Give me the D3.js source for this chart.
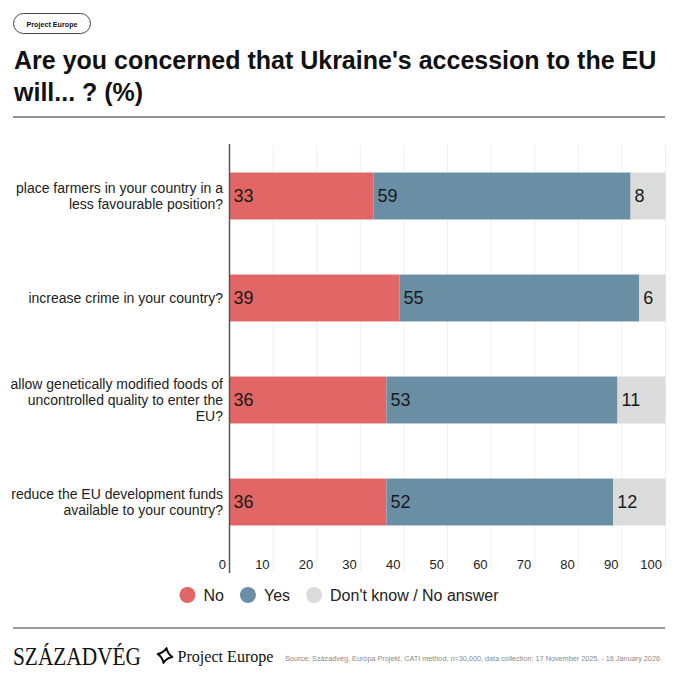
<!DOCTYPE html>
<html lang="en">
<head>
    <meta charset="UTF-8">
    <title>Ukraine accession concerns</title>
    <script src="https://d3js.org/d3.v7.min.js"></script>
    <style>
        body { margin: 0; background: #fff; }
        svg { display: block; font-family: "Liberation Sans", Arial, sans-serif; }
    </style>
</head>
<body>
    <div id="chart"></div>
    <script>
        // ---------------- data ----------------
        var questions = [
            ["place farmers in your country in a", "less favourable position?"],
            ["increase crime in your country?"],
            ["allow genetically modified foods of", "uncontrolled quality to enter the", "EU?"],
            ["reduce the EU development funds", "available to your country?"]
        ];
        var answers = ["No", "Yes", "Don't know / No answer"];
        var noValues = [33, 39, 36, 36];
        var yesValues = [59, 55, 53, 52];
        var dkValues = [8, 6, 11, 12];
        var ticks = [0, 10, 20, 30, 40, 50, 60, 70, 80, 90, 100];
        var colors = ["#e26665", "#6a8fa5", "#dbdbdb"];

        var W = 680, H = 680;
        var svg = d3.select("#chart").append("svg").attr("width", W).attr("height", H);

        // ---------------- header ----------------
        svg.append("rect").attr("x", 13.5).attr("y", 13.5).attr("width", 77).attr("height", 20)
            .attr("rx", 10).attr("fill", "#fff").attr("stroke", "#444").attr("stroke-width", 1);
        svg.append("text").attr("x", 52).attr("y", 26.5).attr("text-anchor", "middle")
            .attr("font-size", 8).attr("font-weight", "bold").attr("fill", "#111")
            .attr("textLength", 51).attr("lengthAdjust", "spacingAndGlyphs")
            .text("Project Europe");

        var title = ["Are you concerned that Ukraine's accession to the EU", "will... ? (%)"];
        svg.append("text").attr("x", 14).attr("y", 69).attr("font-size", 25).attr("font-weight", "bold")
            .attr("fill", "#111")
            .selectAll("tspan").data(title).join("tspan")
            .attr("x", 14).attr("dy", (d, i) => i ? 32 : 0).text(d => d);

        svg.append("line").attr("x1", 13).attr("x2", 665).attr("y1", 117).attr("y2", 117)
            .attr("stroke", "#6e6e6e").attr("stroke-width", 1.5);

        // ---------------- scales ----------------
        var x = d3.scaleLinear().domain([0, 100]).range([229.5, 665.5]);
        var y = d3.scaleBand().domain(d3.range(questions.length)).range([145, 553])
            .paddingInner(0.54).paddingOuter(0.27);

        var series = d3.stack().keys([0, 1, 2])
            .value((i, k) => [noValues, yesValues, dkValues][k][i])(d3.range(questions.length));

        // grid lines
        svg.append("g").selectAll("line").data(ticks.slice(1)).join("line")
            .attr("x1", d => x(d)).attr("x2", d => x(d)).attr("y1", 145).attr("y2", 572)
            .attr("stroke", "#efefef").attr("stroke-width", 1);

        // bars
        var layer = svg.append("g").selectAll("g").data(series).join("g")
            .attr("fill", (d, k) => colors[k]);
        layer.selectAll("rect").data(d => d).join("rect")
            .attr("x", d => x(d[0])).attr("width", d => x(d[1]) - x(d[0]))
            .attr("y", d => y(d.data)).attr("height", y.bandwidth());

        // value labels
        layer.selectAll("text").data(d => d).join("text")
            .attr("x", d => x(d[0]) + 4).attr("y", d => y(d.data) + y.bandwidth() / 2)
            .attr("dy", "0.36em").attr("font-size", 18).attr("fill", "#1a1a1a")
            .text(d => d[1] - d[0]);

        // axis line
        svg.append("line").attr("x1", x(0)).attr("x2", x(0)).attr("y1", 144).attr("y2", 573)
            .attr("stroke", "#555").attr("stroke-width", 1.5);

        // tick labels
        var xAxis = d3.axisBottom(x).tickValues(ticks).tickSize(0).tickPadding(0);
        var ax = svg.append("g").attr("transform", "translate(0,559)").call(xAxis);
        ax.select(".domain").remove();
        ax.selectAll("text").attr("text-anchor", "end").attr("x", -4).attr("dy", 0).attr("y", 10)
            .attr("font-size", 13).attr("fill", "#222")
            .attr("font-family", "'Liberation Sans', Arial, sans-serif");

        // category labels
        svg.append("g").selectAll("text").data(questions).join("text")
            .attr("text-anchor", "end").attr("font-size", 14).attr("fill", "#222")
            .each(function(lines, i) {
                var cy = y(i) + y.bandwidth() / 2;
                d3.select(this).selectAll("tspan").data(lines).join("tspan")
                    .attr("x", 223)
                    .attr("y", (d, j) => cy + 5 + (j - (lines.length - 1) / 2) * 15.8)
                    .text(d => d);
            });

        // ---------------- legend ----------------
        var legend = svg.append("g");
        var lx = 0;
        answers.forEach(function(a, k) {
            var g = legend.append("g").attr("transform", "translate(" + lx + ",0)");
            g.append("circle").attr("cx", 8).attr("cy", 595).attr("r", 8).attr("fill", colors[k]);
            var t = g.append("text").attr("x", 24).attr("y", 601).attr("font-size", 16)
                .attr("fill", "#222").text(a);
            lx += 24 + t.node().getComputedTextLength() + 16;
        });
        var legendW = lx - 16;
        legend.attr("transform", "translate(" + (339 - legendW / 2) + ",0)");

        // ---------------- footer ----------------
        svg.append("line").attr("x1", 13).attr("x2", 665).attr("y1", 628).attr("y2", 628)
            .attr("stroke", "#777").attr("stroke-width", 1.5);

        svg.append("text").attr("x", 13).attr("y", 665).attr("font-size", 25)
            .attr("font-family", "'Liberation Serif', 'Times New Roman', serif").attr("fill", "#111")
            .attr("textLength", 128).attr("lengthAdjust", "spacingAndGlyphs")
            .text("SZÁZADVÉG");

        // star mark
        var cx = 165, cyS = 655.5, r = 7.5, k = 2.2;
        var star = "M" + cx + "," + (cyS - r) +
            " Q" + (cx + k) + "," + (cyS - k) + " " + (cx + r) + "," + cyS +
            " Q" + (cx + k) + "," + (cyS + k) + " " + cx + "," + (cyS + r) +
            " Q" + (cx - k) + "," + (cyS + k) + " " + (cx - r) + "," + cyS +
            " Q" + (cx - k) + "," + (cyS - k) + " " + cx + "," + (cyS - r) + " Z";
        svg.append("path").attr("d", star).attr("fill", "none").attr("stroke", "#111")
            .attr("stroke-width", 2).attr("stroke-linejoin", "round")
            .attr("transform", "rotate(12," + cx + "," + cyS + ")");

        svg.append("text").attr("x", 177.5).attr("y", 661.5).attr("font-size", 16.5)
            .attr("font-family", "'Liberation Serif', 'Times New Roman', serif").attr("fill", "#111")
            .attr("textLength", 96).attr("lengthAdjust", "spacingAndGlyphs")
            .text("Project Europe");

        svg.append("text").attr("x", 285).attr("y", 661).attr("font-size", 7.5).attr("fill", "#8a8a8a")
            .attr("textLength", 377).attr("lengthAdjust", "spacingAndGlyphs")
            .text("Source: Századvég, Európa Projekt, CATI method, n=30,000, data collection: 17 November 2025. - 16 January 2026.");
    </script>
</body>
</html>
